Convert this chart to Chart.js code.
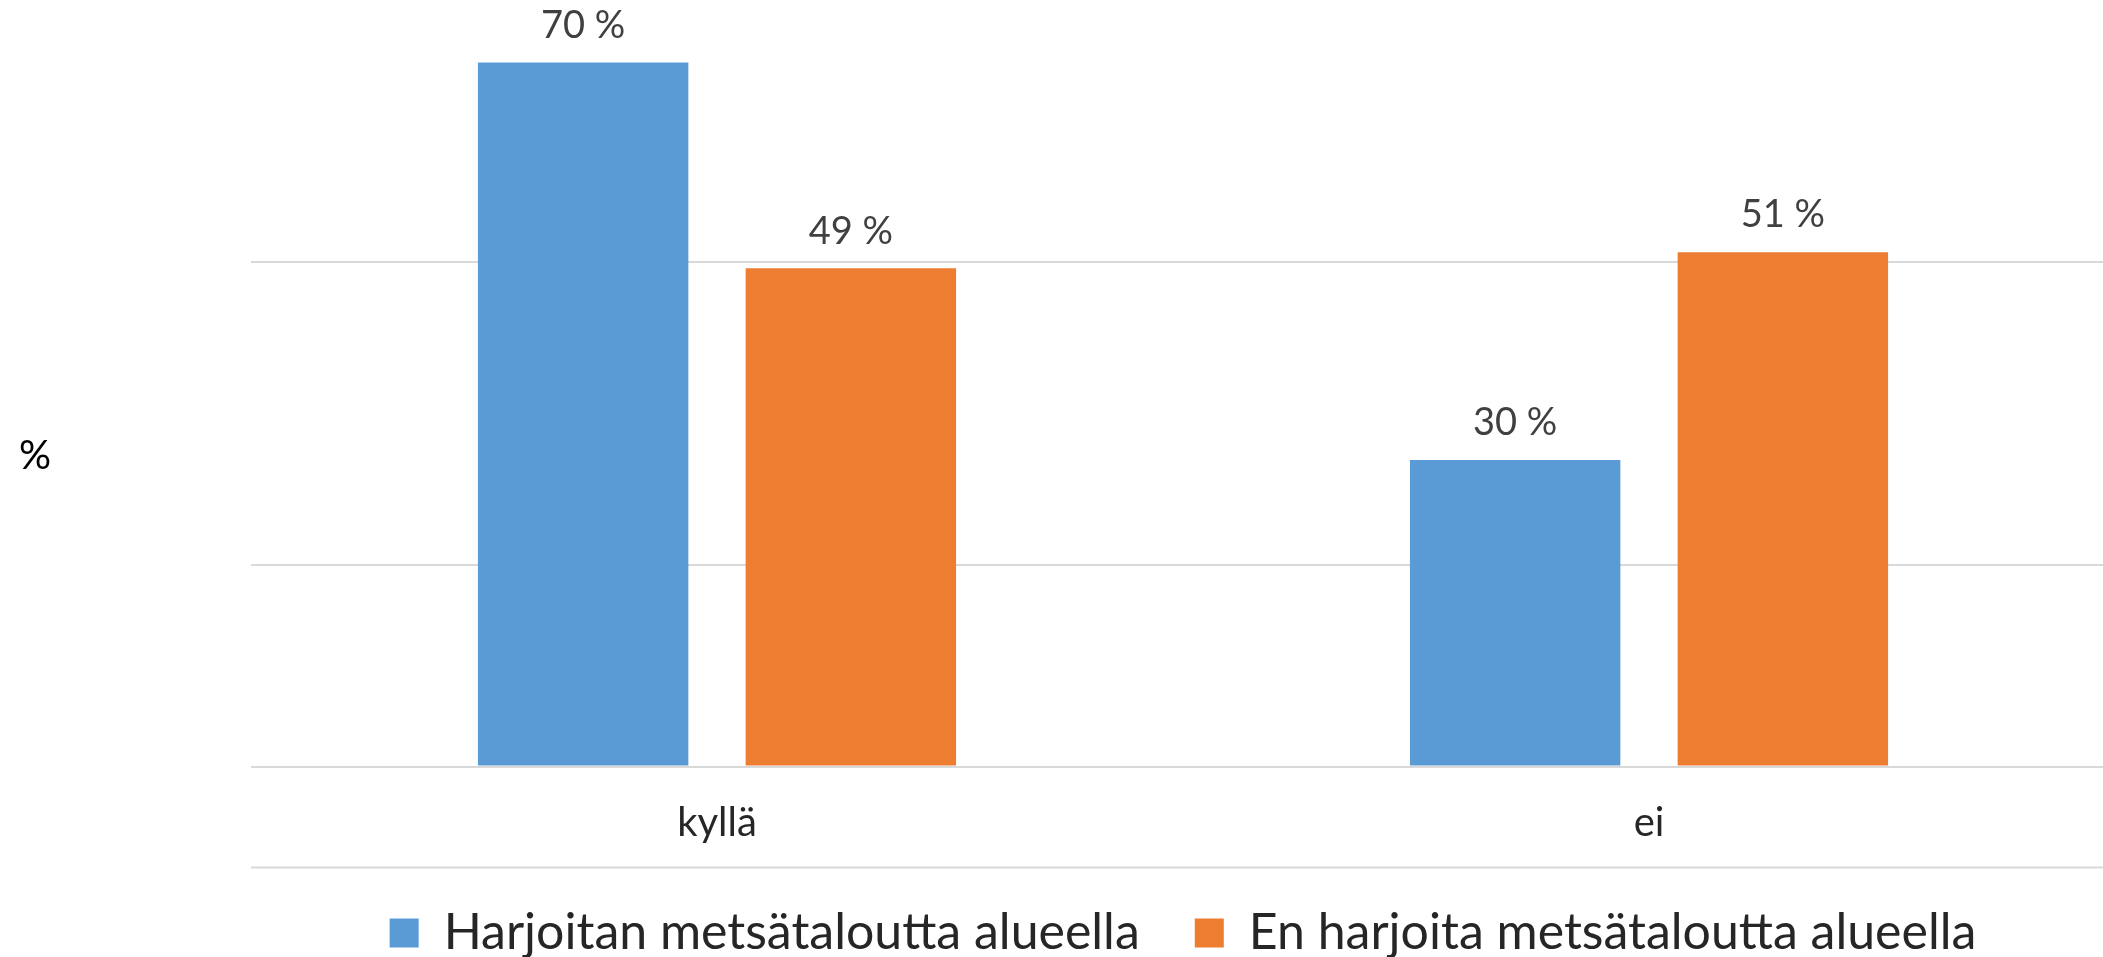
<!DOCTYPE html>
<html>
<head>
<meta charset="utf-8">
<script src="https://cdn.jsdelivr.net/npm/chart.js@4/dist/chart.umd.min.js"></script>
<style>
  html, body { margin: 0; padding: 0; background: #ffffff; overflow: hidden; }
  #wrap { position: relative; width: 2115px; height: 957px; }
</style>
</head>
<body>
<div id="wrap"><canvas id="c" width="2115" height="957"></canvas></div>
<script>
const categories = ['kyllä', 'ei'];
const seriesNames = ['Harjoitan metsätaloutta alueella', 'En harjoita metsätaloutta alueella'];
const harjoitan = [69.8, 30.4];
const enHarjoita = [49.4, 51];
const gridTicks = [0, 20, 50];
const yAxisTitle = '%';

const FONT = 'Lato, "Open Sans", sans-serif';

const valueLabels = {
  id: 'valueLabels',
  afterDatasetsDraw(chart) {
    const ctx = chart.ctx;
    ctx.save();
    ctx.font = '38px ' + FONT;
    ctx.fillStyle = '#404040';
    ctx.textAlign = 'center';
    ctx.textBaseline = 'middle';
    chart.data.datasets.forEach((ds, i) => {
      const meta = chart.getDatasetMeta(i);
      meta.data.forEach((el, j) => {
        ctx.fillText(Math.round(ds.data[j]) + ' %', el.x, el.y - 37);
      });
    });
    ctx.restore();
  }
};

const extras = {
  id: 'extras',
  afterDraw(chart) {
    const ctx = chart.ctx;
    const ca = chart.chartArea;
    ctx.save();
    ctx.strokeStyle = '#D9D9D9';
    ctx.lineWidth = 2;
    ctx.beginPath();
    ctx.moveTo(ca.left, ca.bottom + 101);
    ctx.lineTo(ca.right, ca.bottom + 101);
    ctx.stroke();
    ctx.font = '40px ' + FONT;
    ctx.fillStyle = '#000000';
    ctx.textAlign = 'center';
    ctx.textBaseline = 'middle';
    ctx.fillText(yAxisTitle, 35, ca.top + (ca.bottom - ca.top) * 0.595);
    ctx.restore();
  }
};

new Chart(document.getElementById('c'), {
  type: 'bar',
  data: {
    labels: categories,
    datasets: [
      { label: seriesNames[0], data: harjoitan, backgroundColor: '#5B9BD5', borderWidth: 0 },
      { label: seriesNames[1], data: enHarjoita, backgroundColor: '#ED7D31', borderWidth: 0 }
    ]
  },
  options: {
    responsive: false,
    animation: false,
    events: [],
    categoryPercentage: 0.5745,
    barPercentage: 0.786,
    layout: { padding: { top: 0, left: 0, right: 0, bottom: 0 } },
    plugins: {
      tooltip: { enabled: false },
      legend: {
        position: 'bottom',
        fullSize: false,
        maxHeight: 104,
        labels: {
          font: { family: FONT, size: 50 },
          color: '#262626',
          boxWidth: 29,
          boxHeight: 29,
          padding: 55
        }
      }
    },
    scales: {
      x: {
        grid: { display: false, drawTicks: false },
        border: { display: false },
        ticks: { font: { family: FONT, size: 40 }, color: '#262626', padding: 33 },
        afterFit(scale) { scale.height = 86.5; }
      },
      y: {
        min: 0,
        max: 76,
        afterFit(scale) { scale.width = 251; },
        afterBuildTicks(scale) { scale.ticks = gridTicks.map(v => ({ value: v })); },
        ticks: { display: false },
        grid: { color: '#D9D9D9', lineWidth: 2, drawTicks: false },
        border: { display: false }
      }
    }
  },
  plugins: [valueLabels, extras]
});
</script>
</body>
</html>
